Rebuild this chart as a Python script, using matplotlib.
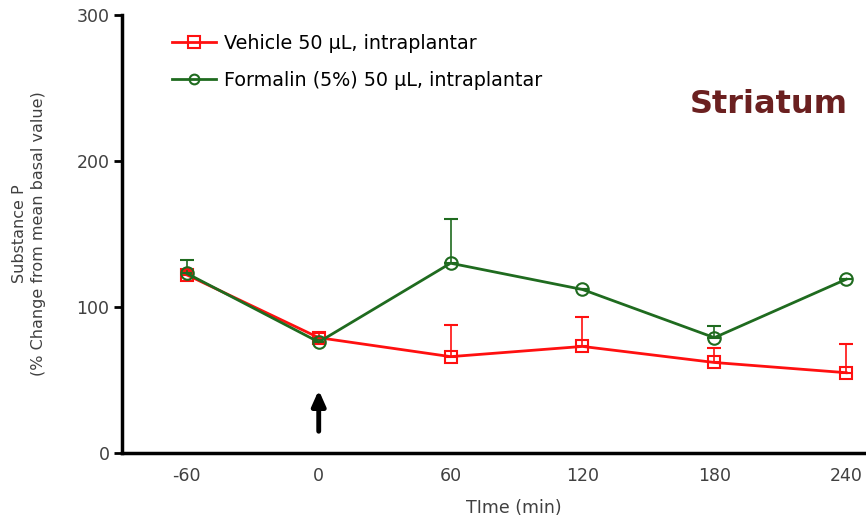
import matplotlib.pyplot as plt
from matplotlib.lines import Line2D

plt.rcParams['font.family'] = ['DejaVu Sans']

time = [-60, 0, 60, 120, 180, 240]
tick_labels = ['-60', '0', '60', '120', '180', '240']

vehicle = [122, 79, 66, 73, 62, 55]
vehicle_err = [3, 3, 22, 20, 10, 20]
formalin = [123, 76, 130, 112, 79, 119]
formalin_err = [9, 2, 30, 0, 8, 0]

red = '#ff1010'
green = '#1f6b1f'
txt = '#404040'

fig = plt.figure(figsize=(8.66, 5.21), dpi=100)
ax = fig.add_axes([0.1409, 0.1305, 0.8591, 0.8407])

style = dict(markersize=9, markerfacecolor='none', markeredgewidth=1.5,
             linewidth=2, elinewidth=1.2, capsize=5, capthick=1.2)
ax.errorbar(time, vehicle, yerr=[[0] * len(time), vehicle_err], color=red,
            marker='s', **style)
ax.errorbar(time, formalin, yerr=[[0] * len(time), formalin_err], color=green,
            marker='o', **style)

ax.annotate('', xy=(0, 45), xytext=(0, 13),
            arrowprops=dict(arrowstyle='-|>,head_width=0.4,head_length=0.9',
                            color='black', linewidth=3.5))

ax.set_xlim(-89.5, 249)
ax.set_ylim(0, 300)
ax.set_xticks(time)
ax.set_xticklabels(tick_labels)
ax.set_yticks([0, 100, 200, 300])

for side in ['top', 'right']:
    ax.spines[side].set_visible(False)
for side in ['left', 'bottom']:
    ax.spines[side].set_linewidth(2.5)
ax.tick_params(axis='x', length=0, pad=10, labelsize=12.5, labelcolor=txt)
ax.tick_params(axis='y', length=6, width=2, pad=3, labelsize=12.5, labelcolor=txt)

ax.set_xlabel('TIme (min)', fontsize=12.5, color=txt, va='center')
ax.xaxis.set_label_coords(0.527, -0.126)
ax.set_ylabel('Substance P\n(% Change from mean basal value)', fontsize=11.5,
              color=txt, linespacing=1.35, va='center')
ax.yaxis.set_label_coords(-0.125, 0.5)

handles = [
    Line2D([], [], color=red, marker='s', markersize=8, markerfacecolor='none',
           markeredgewidth=1.5, linewidth=2),
    Line2D([], [], color=green, marker='o', markersize=7, markerfacecolor='none',
           markeredgewidth=1.5, linewidth=2),
]
labels = ['Vehicle 50 µL, intraplantar', 'Formalin (5%) 50 µL, intraplantar']
fig.legend(handles, labels, loc='upper left', bbox_to_anchor=(0.1986, 0.9355),
           frameon=False, fontsize=13.8, handlelength=2.3, handletextpad=0.4,
           labelspacing=0.95, borderpad=0, borderaxespad=0)

ax.text(0.975, 0.795, 'Striatum', transform=ax.transAxes, ha='right', va='center',
        fontsize=23, fontweight='bold', color='#6b2020')

fig.savefig('out.png', dpi=100)
